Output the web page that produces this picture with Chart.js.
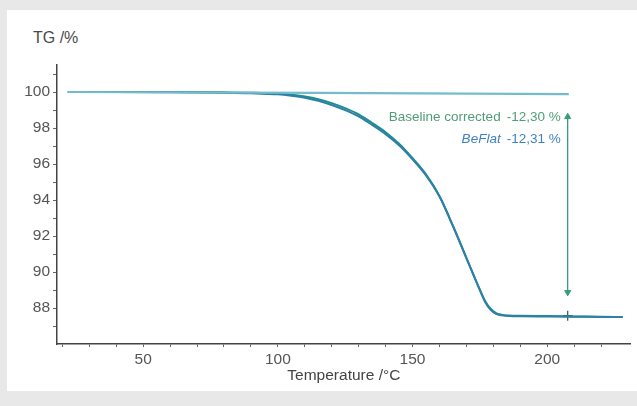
<!DOCTYPE html>
<html>
<head>
<meta charset="utf-8">
<script src="https://cdn.jsdelivr.net/npm/chart.js@4/dist/chart.umd.min.js"></script>
<style>
  html, body { margin: 0; padding: 0; }
  body { width: 637px; height: 406px; background: #e8e8e8; position: relative; overflow: hidden; font-family: "Liberation Sans", Arial, sans-serif; }
  .panel { position: absolute; left: 7px; top: 10px; width: 630px; height: 381px; background: #fff; }
  .y-title { position: absolute; left: 33px; top: 29px; font-size: 16px; color: #4a4a4a; }
  #tgChart { position: absolute; left: 0; top: 0; }
</style>
</head>
<body>
<div class="panel"></div>
<div class="y-title">TG /%</div>
<canvas id="tgChart" width="637" height="406"></canvas>
<script>
// Temperature grid (°C) shared by both measured curves
const temps = [22, 40, 60, 80, 90, 100, 105, 110, 115, 120, 125, 130, 135, 140, 145, 150, 155, 160, 165, 170, 175, 177, 179, 181, 183, 186, 190, 200, 210, 220, 228];
// Mass (%) after baseline correction
const correctedTG = [100.00, 100.00, 100.00, 99.98, 99.96, 99.91, 99.85, 99.75, 99.60, 99.38, 99.10, 98.76, 98.28, 97.76, 97.12, 96.32, 95.42, 94.22, 92.57, 90.79, 89.02, 88.38, 87.96, 87.72, 87.63, 87.585, 87.57, 87.55, 87.53, 87.51, 87.50];
// Mass (%) with BeFlat correction
const beflatTG = [100.00, 100.00, 99.99, 99.96, 99.93, 99.87, 99.79, 99.68, 99.51, 99.28, 98.99, 98.64, 98.17, 97.66, 97.04, 96.26, 95.37, 94.19, 92.55, 90.77, 88.99, 88.32, 87.90, 87.67, 87.59, 87.555, 87.54, 87.53, 87.52, 87.505, 87.50];
// Blank run
const baselineTemps = [22, 115, 208];
const baselineTG = [100.00, 99.95, 99.88];
// Mass step read at this temperature
const stepTemp = 207.6;
const stepStart = 99.87;
const stepCorrected = 12.30;
const stepBeflat = 12.31;
// Axis ticks
const xTicks = [20, 30, 40, 50, 60, 70, 80, 90, 100, 110, 120, 130, 140, 150, 160, 170, 180, 190, 200, 210, 220];
const yTicks = [87, 88, 89, 90, 91, 92, 93, 94, 95, 96, 97, 98, 99, 100, 101];

const stepEnd = stepStart - stepCorrected;
const fmt = (v) => "-" + v.toFixed(2).replace(".", ",") + " %";

const toPoints = (xs, ys) => xs.map((x, i) => ({ x: x, y: ys[i] }));

// Step labels next to the arrow
const stepLabels = {
  id: "stepLabels",
  afterDatasetsDraw(chart) {
    const { ctx, scales } = chart;
    const ax = scales.x.getPixelForValue(stepTemp);
    const right = ax - 7;
    const rows = [
      { name: "Baseline corrected", value: fmt(stepCorrected), color: "#4f9c76", italic: false, y: 98.39 },
      { name: "BeFlat", value: fmt(stepBeflat), color: "#3f82bf", italic: true, y: 97.17 }
    ];
    ctx.save();
    ctx.textBaseline = "alphabetic";
    ctx.textAlign = "right";
    rows.forEach((r) => {
      const py = scales.y.getPixelForValue(r.y);
      ctx.fillStyle = r.color;
      ctx.font = "13.5px 'Liberation Sans', Arial, sans-serif";
      ctx.fillText(r.value, right, py);
      const w = ctx.measureText(r.value).width;
      ctx.font = (r.italic ? "italic " : "") + "13.5px 'Liberation Sans', Arial, sans-serif";
      ctx.fillText(r.name, right - w - 6, py);
    });
    ctx.restore();
  }
};

const tickFont = { family: "'Liberation Sans', Arial, sans-serif", size: 15.5 };

new Chart(document.getElementById("tgChart"), {
  type: "line",
  data: {
    datasets: [
      {
        label: "Blank",
        data: toPoints(baselineTemps, baselineTG),
        borderColor: "#74bccb",
        borderWidth: 2.2,
        pointRadius: 0,
        tension: 0
      },
      {
        label: "BeFlat",
        data: toPoints(temps, beflatTG),
        borderColor: "#2f7fa8",
        borderWidth: 2,
        pointRadius: 0,
        cubicInterpolationMode: "monotone"
      },
      {
        label: "Baseline corrected",
        data: toPoints(temps, correctedTG),
        borderColor: "#1f8f8c",
        borderWidth: 2,
        pointRadius: 0,
        cubicInterpolationMode: "monotone"
      },
      {
        label: "Step",
        data: [{ x: stepTemp, y: stepStart - 1.25 }, { x: stepTemp, y: stepEnd + 1.3 }],
        borderColor: "#3a9a7e",
        backgroundColor: "#3a9a7e",
        borderWidth: 1.3,
        pointStyle: "triangle",
        pointRadius: 3.5,
        pointRotation: [0, 180],
        pointBorderWidth: 1
      },
      {
        label: "Step end",
        data: [{ x: stepTemp, y: stepEnd }],
        showLine: false,
        pointStyle: "cross",
        pointRadius: 5,
        pointBorderColor: "#4a5a66",
        pointBorderWidth: 1.3
      }
    ]
  },
  options: {
    responsive: false,
    animation: false,
    layout: { padding: { top: 65, right: 6, left: 0, bottom: 0 } },
    plugins: { legend: { display: false }, tooltip: { enabled: false } },
    scales: {
      x: {
        type: "linear",
        min: 18,
        max: 231,
        afterBuildTicks: (scale) => { scale.ticks = xTicks.map((v) => ({ value: v })); },
        afterFit: (scale) => { scale.height = 62; },
        grid: { drawOnChartArea: false, tickLength: 3, tickColor: "#666", tickWidth: 1 },
        border: { color: "#444", width: 1.5 },
        ticks: {
          autoSkip: false,
          maxRotation: 0,
          padding: 3,
          color: "#555",
          font: tickFont,
          callback: (v) => (v % 50 === 0 ? v : "")
        },
        title: {
          display: true,
          text: "Temperature /°C",
          color: "#444",
          font: { family: "'Liberation Sans', Arial, sans-serif", size: 15.5 },
          padding: { top: 0, bottom: 21 }
        }
      },
      y: {
        type: "linear",
        min: 86,
        max: 101.5,
        afterBuildTicks: (scale) => { scale.ticks = yTicks.map((v) => ({ value: v })); },
        afterFit: (scale) => { scale.width = 57; },
        grid: { drawOnChartArea: false, tickLength: 4, tickColor: "#666", tickWidth: 1 },
        border: { color: "#444", width: 1.5 },
        ticks: {
          autoSkip: false,
          padding: 3,
          color: "#555",
          font: tickFont,
          callback: (v) => (v % 2 === 0 ? v : "")
        }
      }
    }
  },
  plugins: [stepLabels]
});
</script>
</body>
</html>
